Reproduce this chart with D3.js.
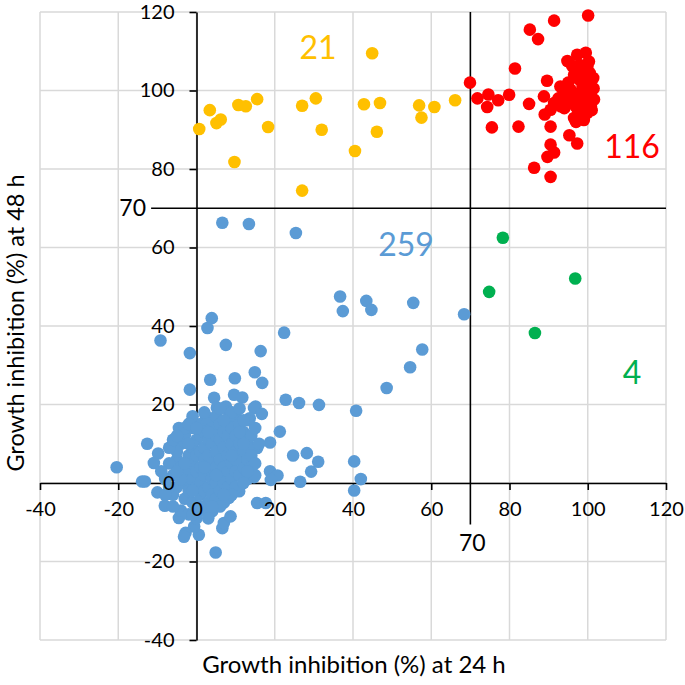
<!DOCTYPE html>
<html><head><meta charset="utf-8">
<script src="https://cdn.jsdelivr.net/npm/d3@7"></script>
<style>body{margin:0;background:#fff}svg{display:block}text{font-family:Lato,"Open Sans",sans-serif}</style>
</head><body><svg id="c" width="685" height="685"></svg>
<script>
const xTicks=[-40,-20,0,20,40,60,80,100,120];
const yTicks=[-40,-20,0,20,40,60,80,100,120];
const threshold=70;
const xTitle="Growth inhibition (%) at 24 h";
const yTitle="Growth inhibition (%) at 48 h";
const groupNames=["low","late","both","early"];
const groupCounts=["259","21","116","4"];
const groupColors=["#5B9BD5","#FFC000","#FF0000","#00B050"];

const yellowPts=[[0.7,90.2],[3.4,95.0],[5.1,91.7],[6.2,92.6],[10.7,96.3],[9.7,81.8],[12.6,96.0],[15.5,97.8],[18.3,90.7],[27.0,96.1],[30.5,98.0],[32.0,90.0],[27.0,74.5],[44.9,109.5],[42.8,96.5],[46.9,96.8],[46.1,89.5],[40.5,84.6],[56.9,96.2],[60.8,95.8],[57.5,93.1],[66.1,97.5]];
const greenPts=[[78.3,62.5],[74.8,48.7],[96.8,52.1],[86.5,38.2]];
const redPts=[[100.1,119.1],[91.4,117.8],[85.2,115.5],[87.3,113.1],[81.4,105.6],[69.9,102.0],[71.8,98.0],[74.6,99.0],[74.3,95.8],[77.1,97.5],[79.9,98.9],[75.5,90.6],[82.3,90.8],[85.0,96.6],[89.6,102.5],[89.0,93.9],[90.5,90.8],[95.3,88.6],[97.3,86.5],[90.5,86.2],[91.4,84.2],[89.7,83.1],[86.3,80.3],[90.5,78.0],[94.8,107.5],[96.0,106.3],[97.3,109.1],[99.5,109.6],[100.3,107.4],[101.4,103.2],[100.8,101.1],[101.6,97.7],[99.9,94.3],[96.5,93.0],[93.1,96.0],[93.9,99.4],[88.8,98.5],[91.4,96.8],[95.6,100.2],[97.8,102.8],[99.0,104.5],[98.2,97.7],[96.9,96.0],[99.0,96.0],[100.8,96.0],[94.8,97.7],[90.5,95.1],[98.2,93.8],[100.8,99.4],[99.9,106.1],[98.7,101.1],[92.5,98.0],[94.0,95.5],[95.5,97.0],[97.0,99.0],[98.5,100.0],[100.0,98.5],[101.0,95.0],[97.5,95.0],[96.0,98.5],[99.5,102.0],[100.5,104.5],[98.0,106.5],[96.5,104.0],[95.0,102.0],[93.0,101.0],[97.0,92.0],[99.0,92.5],[101.5,100.5],[100.0,96.5]];
const bluePts=[
[6.6,66.3],[13.4,66.0],[25.4,63.7],[36.7,47.5],[37.4,43.8],[43.4,46.4],[44.7,44.1],[55.4,45.9],[68.4,43.0],[57.7,34.0],[54.6,29.5],[48.6,24.2],[40.8,18.4],[31.3,19.9],[26.2,20.4],[22.8,21.2],[22.4,38.3],[28.2,7.6],[31.1,5.4],[29.3,2.9],[40.3,5.5],[42.0,1.0],[40.3,-1.9],[26.5,0.3],
[3.9,42.0],[2.8,39.5],[-9.2,36.3],[-1.7,33.1],[7.5,35.2],[16.4,33.6],[3.5,26.3],[9.8,26.7],[14.9,28.2],[16.8,25.5],[-1.7,23.8],[4.5,21.7],[9.6,22.5],[11.7,21.8],[7.5,19.5],[15.1,19.5],[14.7,19.1],[16.7,17.6],[21.3,13.1],[18.8,10.3],[15.5,8.9],[24.7,7.0],[18.8,3.0],[20.7,1.9],[19.0,0.8],[14.7,1.5],
[15.5,-5.1],[17.7,-5.1],[4.9,-17.7],[6.6,-11.5],[7.0,-10.2],[8.7,-8.5],[0.6,-13.2],[4.0,-7.2],[8.3,-3.8],[10.9,-2.1],[-0.6,-11.1],[-20.4,4.0],[-12.6,10.0],[-9.8,7.5],[-10.9,5.1],[-13.2,0.4],[-13.9,0.4],[-10.0,-2.4],[-8.1,-5.8],[-4.5,14.0],[-4.5,-8.9],[-2.8,-12.7],[-3.2,-13.7],[-1.5,15.4],[2.4,17.0],[5.2,19.2],[8.3,18.2],[13.6,16.5],
[-6,2],[-5,6],[-5,-1],[-4,10],[-4,4],[-3,12],[-3,0],[-3,-4],[-2,7],[-2,3],[-2,-2],[-1,14],[-1,9],[-1,5],[-1,1],[-1,-5],[0,11],[0,7],[0,3],[0,-1],[0,-6],[1,15],[1,12],[1,8],[1,4],[1,0],[1,-3],[2,13],[2,9],[2,6],[2,2],[2,-2],[2,-7],[3,16],[3,11],[3,7],[3,3],[3,-1],[3,-5],[4,14],[4,10],[4,5],[4,1],[4,-3],[5,17],[5,12],[5,8],[5,4],[5,0],[5,-4],[6,15],[6,11],[6,6],[6,2],[6,-2],[7,13],[7,9],[7,4],[7,0],[7,-5],[8,16],[8,12],[8,7],[8,3],[8,-1],[9,14],[9,10],[9,5],[9,1],[10,17],[10,12],[10,8],[10,3],[10,-1],[11,15],[11,10],[11,6],[11,2],[12,13],[12,8],[12,4],[13,16],[13,11],[13,6],[13,1],[14,9],[14,4],[-7,5],[-8,1],[-9,3],[-6,-3],[-4,-7],[-7,-1],[-5,8],[-2,-8],[0,-9],[3,-9],[6,-6],[9,-3],[12,0],[15,2],[14,12],[-3,14],[-1,17],[2,18],[6,19],[9,18],[11,19],
[-7,9],[-6,11],[-8,-3],[-6,-6],[-5,12],[-2,10],[-1,-8],[1,-6],[4,-6],[7,-3],[10,6],[12,10],[14,7],[15,5],[16,10],[-4,1],[-2,15],[0,14],[3,13],[7,16],[11,13],[12,16],[15,14],[13,3],[9,7],[5,2],[2,4],[-1,-2],[-5,3],[-3,5]
];

const svg=d3.select("#c");
const x=d3.scaleLinear().domain([-40,120]).range([40,666]);
const y=d3.scaleLinear().domain([-40,120]).range([640,12]);

// grid
const g=svg.append("g");
g.selectAll(".gx").data(xTicks).join("line").attr("x1",d=>x(d)).attr("x2",d=>x(d)).attr("y1",y(-40)).attr("y2",y(120)).attr("stroke","#d9d9d9").attr("stroke-width",1.5);
g.selectAll(".gy").data(yTicks).join("line").attr("y1",d=>y(d)).attr("y2",d=>y(d)).attr("x1",x(-40)).attr("x2",x(120)).attr("stroke","#d9d9d9").attr("stroke-width",1.5);

// axis lines and ticks (no labels)
const xAx=svg.append("g").attr("transform",`translate(0,${y(0)})`).call(d3.axisBottom(x).tickValues(xTicks).tickSize(7).tickSizeOuter(0).tickFormat(""));
const yAx=svg.append("g").attr("transform",`translate(${x(0)},0)`).call(d3.axisLeft(y).tickValues(yTicks).tickSize(7).tickSizeOuter(0).tickFormat(""));
[xAx,yAx].forEach(a=>{a.selectAll("path,line").attr("stroke","#000").attr("stroke-width",1.6);});

// threshold lines
svg.append("line").attr("x1",x(threshold)).attr("x2",x(threshold)).attr("y1",y(120)).attr("y2",y(-10.6)).attr("stroke","#000").attr("stroke-width",1.6);
svg.append("line").attr("y1",y(threshold)).attr("y2",y(threshold)).attr("x1",x(-11.6)).attr("x2",x(120)).attr("stroke","#000").attr("stroke-width",1.6);

// points
const groups=[bluePts,yellowPts,redPts,greenPts];
groups.forEach((pts,i)=>{
  svg.append("g").selectAll("circle").data(pts).join("circle")
    .attr("cx",d=>x(d[0])).attr("cy",d=>y(d[1])).attr("r",6.3).attr("fill",groupColors[i]);
});

// tick labels on top
const xl=svg.append("g").attr("transform",`translate(0,${y(0)})`).call(d3.axisBottom(x).tickValues(xTicks).tickSize(0).tickPadding(19).tickFormat(d=>String(d)));
const yl=svg.append("g").attr("transform",`translate(${x(0)},0)`).call(d3.axisLeft(y).tickValues(yTicks).tickSize(0).tickPadding(22).tickFormat(d=>String(d)));
[xl,yl].forEach(a=>{a.select(".domain").remove();a.selectAll("text").attr("font-family","Lato, sans-serif").attr("font-size",20).attr("fill","#000");});

// threshold labels
svg.append("text").attr("x",x(threshold)+2).attr("y",551).attr("text-anchor","middle").attr("font-size",23).text(String(threshold));
svg.append("text").attr("x",146).attr("y",y(threshold)+8).attr("text-anchor","end").attr("font-size",23).text(String(threshold));

// count labels
const cpos=[[406,256],[318,59],[632,158],[632,384]];
groupCounts.forEach((t,i)=>{
  svg.append("text").attr("x",cpos[i][0]).attr("y",cpos[i][1]).attr("text-anchor","middle").attr("font-size",32).attr("fill",groupColors[i]).text(t);
});

// axis titles
svg.append("text").attr("x",354).attr("y",673).attr("text-anchor","middle").attr("font-size",24).text(xTitle);
svg.append("text").attr("transform","translate(24,323) rotate(-90)").attr("text-anchor","middle").attr("font-size",23.5).text(yTitle);
</script></body></html>
